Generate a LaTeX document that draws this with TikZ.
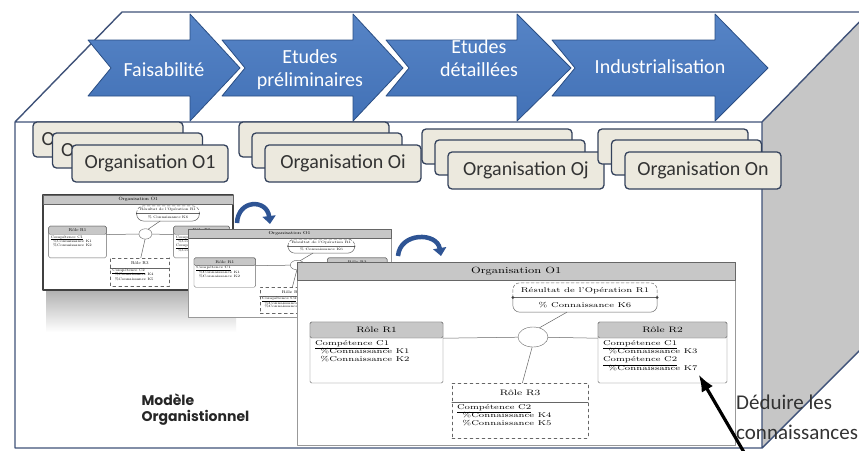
\documentclass[tikz,border=0pt]{standalone}
\usepackage{fontspec}
\newfontfamily\calib{Carlito}
\newfontfamily\gothic{Poppins}
\usetikzlibrary{arrows.meta,shapes.geometric}

\definecolor{boxline}{RGB}{63,82,121}
\definecolor{phase}{RGB}{66,113,182}
\definecolor{phasetop}{RGB}{86,132,198}
\definecolor{phaseline}{RGB}{42,78,132}
\definecolor{orgfill}{RGB}{236,233,222}
\definecolor{orgline}{RGB}{52,66,92}
\definecolor{sidegray}{RGB}{198,198,198}
\definecolor{turnblue}{RGB}{46,84,148}

\newcommand\shot[2]{\scalebox{1.35}[1]{\fontsize{#1}{#1}\selectfont #2}}
\newcommand\shotlist[1]{\scalebox{1.35}[1]{\fontsize{7}{8}\selectfont\begin{tabular}{@{}l@{}}#1\end{tabular}}}

\tikzset{
	shotframe/.style={fill=white,draw=black!40,line width=.5pt},
	shotline/.style={draw=black!60,line width=.5pt},
	rolebox/.style={draw=black!60,fill=white,rounded corners=1.5pt,minimum height=61,inner sep=0pt},
	rolehead/.style={draw=black!60,fill=black!22,rounded corners=1.5pt,minimum height=16,inner sep=0pt},
	roletext/.style={inner sep=1pt,anchor=north west},
	orgshot/.pic={
		\tikzset{every node/.append style={transform shape}}
		\draw[shotframe] (0,0) rectangle (438,183);
		\node[rolehead,rounded corners=0pt,minimum width=438,minimum height=18,anchor=north west] (-title) at (0,0) {\shot{9}{Organisation O1}};
		\node[rolebox,minimum width=133] (-r1) at (79.5,90.5) {};
		\node[rolebox,minimum width=129] (-r2) at (365.5,90.5) {};
		\node[rolebox,dashed,rounded corners=0pt,minimum width=136,minimum height=55] (-r3) at (223,148.5) {};
		\node[rolehead,minimum width=133,anchor=north] (-r1h) at (-r1.north) {\shot{8}{Rôle R1}};
		\node[rolehead,minimum width=129,anchor=north] (-r2h) at (-r2.north) {\shot{8}{Rôle R2}};
		\node[rolehead,draw=none,fill=none,minimum width=136,minimum height=19,anchor=north] (-r3h) at (-r3.north) {\shot{8}{Rôle R3}};
		\draw[shotline] (-r3h.south west) -- (-r3h.south east);
		\node[roletext] (-r1t) at ([xshift=4pt]-r1h.south west) {\shotlist{\underline{Compétence C1}\\\hspace{4pt}\%Connaissance K1\\\hspace{4pt}\%Connaissance K2}};
		\node[roletext] (-r2t) at ([xshift=4pt]-r2h.south west) {\shotlist{\underline{Compétence C1}\\\hspace{4pt}\%Connaissance K3\\\underline{Compétence C2}\\\hspace{4pt}\%Connaissance K7}};
		\node[roletext] (-r3t) at ([xshift=4pt]-r3h.south west) {\shotlist{\underline{Compétence C2}\\\hspace{4pt}\%Connaissance K4\\\hspace{4pt}\%Connaissance K5}};
		\node[minimum width=144,minimum height=29,inner sep=0pt] (-res) at (288,35.5) {};
		\draw[shotline,dash pattern=on 3pt off 2pt,rounded corners=7pt] (-res.west) |- (-res.north) -| (-res.east);
		\draw[shotline,rounded corners=7pt] (-res.west) |- (-res.south) -| (-res.east);
		\draw[shotline] (-res.west) -- (-res.east);
		\fill[black!75] (-res.west) circle (1.5) (-res.east) circle (1.5);
		\node (-resa) at (288,29) {\shot{7}{Résultat de l'Opération R1}};
		\node (-resb) at (288,43) {\shot{7}{\% Connaissance K6}};
		\node[ellipse,draw=black!60,fill=white,minimum width=30,minimum height=20,inner sep=0pt] (-ell) at (236,75) {};
		\draw[shotline] (-r1h.south east) -- (-ell) -- (-r2h.south west);
		\draw[shotline] (-ell.55) -- (-res.219);
		\draw[shotline] (-ell.265) -- (-r3.85);
	},
}

\begin{document}
\begin{tikzpicture}[x=1pt,y=-1pt,line join=round,line cap=round,
	boxedge/.style={draw=boxline,line width=1.4pt},
	phasearrow/.style={top color=phasetop,bottom color=phase,draw=phaseline,line width=.8pt},
	phasetext/.style={text=white,align=center,font=\calib\fontsize{20}{23}\selectfont},
	orgtext/.style={inner sep=0pt,text=black!80,font=\calib\fontsize{20}{24}\selectfont},
	orgbox/.style={orgtext,draw=orgline,fill=orgfill,line width=1.3pt,rounded corners=4pt,minimum width=150,minimum height=35},
	turn/.style={draw=turnblue,line width=4.5pt,line cap=butt,-{Triangle[length=8pt,width=13pt]}},
	pointer/.style={draw=black,line width=3.2pt,line cap=butt,-{Latex[length=17pt,width=13pt]}}]
	\useasboundingbox (0,0) rectangle (859,450);
	\clip (0,0) rectangle (859,450);
	\fill[white] (0,0) rectangle (859,450);
	% the box
	\fill[sidegray] (762,122) -- (869,12) -- (869,341) -- (762,448) -- cycle;
	\draw[boxedge] (15,448) -- (15,122) -- (122,12) -- (869,12)
		(15,122) -- (762,122) -- (869,12)
		(762,122) -- (762,448) -- (869,341)
		(15,448) -- (762,448);
	% phases
	\foreach \ta/\no/\he/\ti/\lx/\ly/\lab [count=\i] in {
		88/111/190/240/164/70/{Faisabilité},
		222/245/353/403/310/70/{Etudes\\préliminaires},
		386/409/517/571/479/58.5/{Etudes\\détaillées},
		552/575/715/768/660/67/{Industrialisation}}
	{
		\draw[phasearrow] (\ta,40) -- (\he,40) -- (\he,14) -- (\ti,68) -- (\he,121) -- (\he,96) -- (\ta,96) -- (\no,68) -- cycle;
		\node[phasetext] (phase\i) at (\lx,\ly) {\lab};
	}
	% organisations
	\foreach \x/\y/\s/\lab/\hid in {72/145/19.5/O1/O, 265/145/13/Oi/{}, 448/152/13/Oj/{}, 625/152/13.5/On/{}}
	{
		\node[orgbox] (org\lab-c) at (\x-2*\s+75,\y-5.5) {};
		\node[orgtext,anchor=west] at ([xshift=9pt]org\lab-c.west) {\hid};
		\node[orgbox] (org\lab-b) at (\x-\s+75,\y+5.5) {};
		\node[orgtext,anchor=west] at ([xshift=9pt]org\lab-b.west) {\hid};
		\node[orgbox,minimum width=156,minimum height=37] (org\lab) at (\x+78,\y+18.5) {Organisation \lab};
	}
	% screenshots
	\shade[top color=black!30,bottom color=white] (46,291) rectangle (236,332);
	\begin{scope}[shift={(43,195)},xscale=.434,yscale=.519,shotframe/.style={fill=white,draw=black!75,line width=1.6pt}]
		\pic[transform shape] (first) at (0,0) {orgshot};
	\end{scope}
	\begin{scope}[shift={(188,229)},xscale=.463,yscale=.481]
		\pic[transform shape] (second) at (0,0) {orgshot};
	\end{scope}
	\pic (main) at (297,262) {orgshot};
	\path (237,223) coordinate (t1s) (270,224) coordinate (t1e)
		(398,256) coordinate (t2s) (441,256) coordinate (t2e);
	\draw[turn] (t1s) .. controls (238,199) and (267,199) .. (t1e);
	\draw[turn] (t2s) .. controls (400,232) and (437,232) .. (t2e);
	\node[anchor=west,align=left,text=black!85,font=\gothic\bfseries\fontsize{14}{16}\selectfont] (model) at (138,410) {Modèle\\Organistionnel};
	% knowledge
	\node[anchor=north west,align=left,inner sep=0pt,text=black!80,font=\calib\fontsize{21}{30}\selectfont] (deduce) at (736,395) {Déduire les\\connaissances};
	\coordinate (hand) at (752,466);
	\draw[pointer] (hand) -- (main-r2t.south east);
\end{tikzpicture}
\end{document}
